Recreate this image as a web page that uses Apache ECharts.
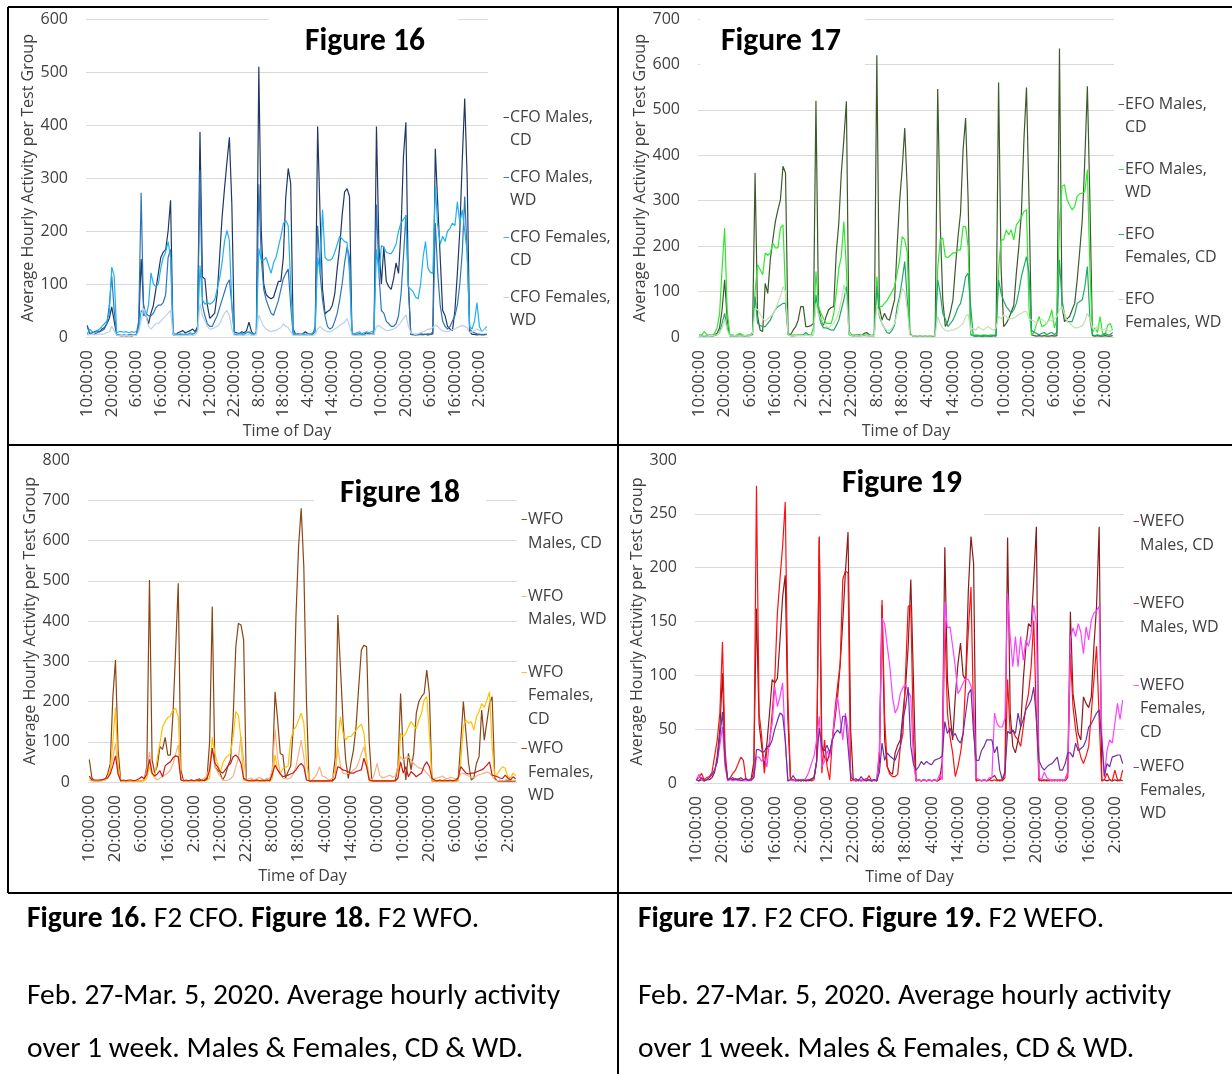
<!DOCTYPE html>
<html><head><meta charset="utf-8">
<script src="https://cdn.jsdelivr.net/npm/echarts@6/dist/echarts.min.js"></script>
<style>html,body{margin:0;padding:0;background:#fff}#c{width:1232px;height:1074px}</style>
</head><body><div id="c"></div>
<script>
// ---------- categories (hourly, starting 10:00) ----------
const hourLabels = [];
for (let i = 0; i < 164; i++) hourLabels.push(((10 + i) % 24) + ':00:00');

// ---------- Figure 16 (CFO) ----------
const fig16Names = ['CFO Males, CD', 'CFO Males, WD', 'CFO Females, CD', 'CFO Females, WD'];
const cfoMalesCD = [22,5,8,10,12,10,15,18,25,35,57,30,3,3,2,3,2,3,2,3,3,20,147,60,40,25,45,60,90,120,150,160,165,200,258,5,3,8,10,12,8,10,12,15,10,20,387,113,110,60,35,40,45,80,150,225,280,330,377,250,10,8,5,10,8,12,28,10,5,8,510,200,100,80,75,72,75,90,105,105,150,264,318,290,15,5,6,5,6,10,6,5,6,10,397,230,90,44,48,51,60,82,130,170,230,274,280,265,6,5,5,6,5,5,8,5,6,5,397,170,100,170,105,95,90,110,140,120,200,340,405,100,5,5,4,5,6,5,5,4,5,6,355,250,150,50,40,20,15,12,50,120,200,334,450,300,10,5,5,4,5,4,5,5];
const cfoMalesWD = [20,8,5,5,8,10,12,15,25,60,115,50,5,4,3,4,3,4,5,3,5,30,272,40,45,40,40,45,55,60,60,65,80,150,165,5,3,4,5,4,5,4,6,5,8,15,315,60,40,25,20,20,30,40,55,70,85,100,108,60,5,4,5,6,5,8,10,6,5,8,288,150,90,70,57,45,41,55,69,90,110,120,128,60,5,4,5,4,5,4,5,4,5,20,210,120,70,40,20,15,18,30,45,70,100,140,170,150,5,4,5,4,5,4,5,6,5,10,250,120,50,45,30,25,20,20,25,40,80,150,230,100,5,4,5,4,5,4,5,6,5,10,215,120,60,30,20,15,20,30,40,60,100,160,265,160,15,10,8,6,5,5,4,5];
const cfoFemalesCD = [5,15,10,8,12,15,20,25,30,45,132,115,8,10,10,9,10,8,10,9,10,15,50,45,40,60,121,100,95,100,130,150,160,180,150,8,6,5,6,5,6,5,8,6,8,10,135,70,62,65,62,65,70,90,110,140,180,201,182,60,5,6,8,5,6,10,8,6,5,8,167,145,145,150,135,120,140,150,170,190,214,220,210,100,8,5,6,5,6,5,6,5,8,10,150,120,240,150,145,145,148,160,175,190,185,180,178,120,8,6,8,10,6,8,10,8,10,12,165,120,172,170,160,158,157,165,175,200,215,222,228,95,90,85,75,72,100,150,180,130,122,120,285,210,175,190,180,200,205,215,210,255,215,240,200,160,20,15,30,65,20,10,15,20];
const cfoFemalesWD = [3,5,5,4,5,6,5,6,8,10,20,12,3,3,2,3,3,2,3,3,3,10,30,55,40,20,15,20,25,25,30,35,40,45,50,5,3,3,2,3,3,3,4,3,4,10,63,40,30,20,15,15,18,20,25,35,45,50,40,15,3,3,4,3,3,4,5,3,3,4,41,30,20,15,12,10,12,12,15,18,25,20,18,10,3,3,3,4,3,3,4,3,3,5,15,20,15,12,10,10,12,15,18,22,25,28,35,20,4,3,3,4,3,3,5,4,5,6,20,22,18,15,12,12,14,15,18,22,28,35,42,20,8,6,5,6,8,10,12,15,15,18,22,20,15,12,10,10,12,14,15,18,20,22,20,18,8,10,12,15,12,10,15,12];

// ---------- Figure 17 (EFO) ----------
const fig17Names = ['EFO Males, CD', 'EFO Males, WD', 'EFO Females, CD', 'EFO Females, WD'];
const efoMalesCD = [5,3,2,3,4,3,5,8,20,60,126,40,3,2,3,2,5,3,2,3,4,5,361,45,15,12,118,96,170,214,254,280,302,376,361,8,5,15,23,37,67,67,23,23,25,30,520,67,40,26,45,60,65,67,185,250,361,435,519,10,5,3,4,5,3,8,10,5,3,5,620,67,37,52,40,37,60,82,200,300,370,460,324,8,3,2,2,3,2,2,3,2,2,3,546,250,82,23,34,55,82,155,220,273,412,482,300,5,3,2,3,2,2,3,2,2,3,2,560,150,23,30,40,55,70,140,200,273,435,549,300,5,3,2,3,2,3,2,2,3,2,3,635,67,34,40,45,60,74,126,190,258,390,552,300,3,2,3,2,2,3,2,2,3];
const efoMalesWD = [3,5,12,5,3,4,8,20,50,150,240,60,5,5,3,5,8,5,3,4,3,8,100,159,148,137,185,180,185,207,196,196,240,247,100,5,3,5,4,3,5,3,4,5,3,20,144,67,52,40,30,30,30,50,96,150,177,254,150,5,3,4,5,3,4,3,5,4,3,5,133,67,67,74,80,90,100,111,140,170,221,214,185,5,3,2,3,2,3,2,3,2,3,3,150,214,218,177,175,180,185,185,192,192,243,243,199,5,3,5,4,3,5,4,3,5,4,5,150,214,214,236,225,236,214,247,254,265,276,280,60,5,10,30,45,23,25,30,40,60,20,40,250,332,335,302,290,280,287,310,315,317,320,368,150,10,20,10,45,8,5,26,30,15];
const efoFemalesCD = [2,3,2,2,3,2,3,5,10,30,52,20,3,2,3,2,3,2,3,2,3,10,89,30,25,23,23,30,37,50,60,67,70,74,74,5,3,2,3,5,3,5,10,5,3,5,93,52,30,20,20,18,15,15,25,37,60,82,111,15,3,2,3,2,3,4,3,2,3,2,111,45,30,20,10,8,15,26,67,90,126,166,82,8,3,2,3,2,3,2,3,2,3,3,126,96,52,40,23,30,37,50,65,74,100,133,140,67,3,2,3,2,3,2,3,2,3,4,126,96,80,67,60,52,60,74,100,133,155,177,140,15,10,8,5,8,10,5,8,10,5,10,170,82,50,34,34,34,50,74,78,82,110,155,40,5,3,5,3,5,8,5,5,10];
const efoFemalesWD = [3,2,3,2,3,3,4,5,10,20,40,15,3,2,3,2,3,2,3,2,3,8,63,60,50,40,35,40,45,50,60,75,90,111,100,5,3,2,3,3,3,3,4,3,3,5,74,50,40,30,25,20,25,30,40,55,80,115,90,10,3,2,3,2,3,2,3,2,3,2,70,50,30,20,15,15,20,30,50,80,107,100,60,5,3,2,3,2,3,2,3,2,3,3,45,30,20,15,12,15,15,18,20,25,30,45,50,15,20,15,23,18,15,20,23,18,15,20,45,40,48,45,40,40,42,45,50,52,56,56,40,37,35,30,37,40,35,30,37,35,40,45,60,67,50,34,30,25,20,20,22,25,35,52,40,20,15,25,20,15,18,15,12,20];

// ---------- Figure 18 (WFO) ----------
const fig18Names = ['WFO Males, CD', 'WFO Males, WD', 'WFO Females, CD', 'WFO Females, WD'];
const wfoMalesCD = [56,10,3,3,3,5,5,20,45,212,303,80,3,2,3,2,3,2,3,2,3,5,40,502,55,22,40,88,81,111,67,67,170,328,494,30,3,2,3,5,3,5,8,3,5,10,100,436,38,30,22,5,17,40,55,162,336,394,390,353,5,3,2,3,5,3,2,3,5,3,30,224,154,71,67,10,26,40,137,411,585,680,535,204,3,2,3,2,3,2,3,2,3,5,60,415,285,150,55,9,46,80,140,237,328,340,336,100,3,2,3,2,3,2,3,2,3,5,40,220,71,5,71,30,71,171,200,212,220,278,220,3,2,3,2,3,2,3,2,3,2,5,100,200,121,46,5,10,46,63,179,104,150,195,212,10,3,2,3,2,3,2,3,2];
const wfoMalesWD = [5,3,2,3,2,3,5,10,30,60,96,20,3,2,3,2,3,2,3,2,3,5,30,75,20,10,5,10,13,18,22,30,46,70,92,10,3,2,3,5,3,5,3,5,10,15,40,84,38,25,15,5,3,5,8,15,38,60,113,55,5,8,10,5,8,12,8,5,10,8,30,133,60,20,10,8,8,10,20,38,70,104,63,5,3,5,10,20,38,15,13,8,5,10,30,88,40,22,20,22,25,30,35,50,70,88,55,10,5,20,46,17,10,12,15,17,12,15,40,63,55,60,63,55,46,40,35,34,30,22,15,5,8,10,12,15,10,8,12,10,8,10,20,22,18,15,12,10,15,18,20,22,25,22,15,5,3,5,3,5,8,5,3,5];
const wfoFemalesCD = [10,5,3,3,5,5,8,10,30,100,185,40,3,2,3,2,3,2,3,2,2,3,10,38,20,13,60,96,137,150,160,164,179,183,162,5,3,2,3,2,3,2,3,2,3,5,10,111,71,46,22,46,59,65,71,113,175,166,104,5,3,2,3,2,3,2,3,2,3,2,10,67,30,20,34,36,40,104,129,137,154,171,146,55,3,2,3,2,3,2,3,2,3,2,10,104,162,121,104,113,113,121,129,137,144,121,55,3,2,3,2,3,2,3,2,3,2,3,10,121,113,121,137,150,140,133,154,171,204,212,121,3,2,3,2,3,2,3,2,3,2,3,50,137,154,146,150,129,162,175,195,185,204,224,88,13,20,30,38,34,13,10,22,15];
const wfoFemalesWD = [15,5,5,5,5,6,8,10,20,40,65,20,3,5,3,5,5,3,5,8,13,8,20,56,22,15,20,28,13,40,46,50,60,65,63,5,3,5,3,5,3,5,3,5,3,8,30,84,46,38,26,22,30,40,46,63,67,60,46,9,5,3,5,3,5,3,5,3,5,3,20,42,30,20,13,15,17,20,23,30,40,46,38,5,3,3,3,3,3,3,3,3,3,3,10,38,35,30,28,25,22,22,26,28,30,59,38,5,3,3,3,3,3,3,3,3,3,3,10,50,22,38,13,26,20,13,18,22,40,50,38,9,5,3,5,3,5,3,5,3,5,10,38,30,22,20,22,22,25,28,30,35,42,50,17,15,13,10,9,17,10,5,13,8];

// ---------- Figure 19 (WEFO) ----------
const fig19Names = ['WEFO Males, CD', 'WEFO Males, WD', 'WEFO Females, CD', 'WEFO Females, WD'];
const wefoMalesCD = [3,2,3,2,3,3,5,10,25,50,102,20,3,4,3,4,3,5,3,4,3,4,20,162,55,34,15,37,65,96,93,97,133,173,193,60,4,3,2,3,2,3,2,3,4,5,20,229,34,24,20,28,40,59,80,110,150,196,233,50,3,2,3,2,3,4,3,2,3,2,20,165,40,15,10,8,28,35,40,65,89,127,189,96,2,3,2,3,2,3,2,3,2,3,20,219,96,65,40,80,110,130,100,96,179,229,204,2,3,2,3,2,3,5,7,3,2,3,10,228,65,34,28,40,52,96,127,148,145,189,238,3,2,3,2,3,2,3,2,3,2,3,10,159,83,65,46,40,80,74,70,80,127,164,238,2,3,2,3,2,3,2,3,2];
const wefoMalesWD = [3,5,9,3,5,6,10,25,40,65,131,30,3,5,9,12,18,24,21,3,3,3,10,276,65,43,9,31,37,65,96,158,190,220,261,80,3,3,2,3,2,3,2,3,2,3,20,227,9,40,15,3,40,68,90,111,189,197,195,2,3,2,3,2,3,2,7,2,3,2,30,170,60,15,8,6,6,8,34,46,102,164,165,40,2,3,2,3,2,3,2,3,2,3,5,151,65,43,28,6,15,28,46,96,142,182,60,2,3,2,3,2,3,2,3,2,3,2,5,96,46,49,43,40,34,52,71,83,108,151,60,2,3,2,3,2,3,2,3,2,3,2,5,120,71,50,34,24,18,25,34,65,96,127,60,2,3,9,3,2,12,3,2,12];
const wefoFemalesCD = [3,8,3,2,3,5,8,12,20,35,52,15,2,3,2,3,2,3,2,2,3,2,5,24,24,20,24,15,40,55,89,71,80,93,40,2,3,2,3,2,3,2,5,10,18,25,40,62,15,20,30,24,40,65,80,60,40,65,50,10,2,3,2,3,2,3,2,3,2,3,30,153,148,127,108,80,65,70,83,89,91,85,80,20,2,3,2,3,2,3,2,3,2,8,3,168,144,145,127,108,83,87,93,97,96,90,80,5,3,2,3,2,5,5,65,55,52,52,60,176,136,108,136,108,136,114,133,127,139,165,148,5,3,10,5,3,2,3,2,3,2,3,10,134,144,136,148,140,120,145,133,151,158,160,164,46,6,30,40,37,55,74,59,77];
const wefoFemalesWD = [3,2,5,2,3,5,8,12,20,43,66,20,3,4,5,3,4,2,3,4,2,3,5,31,31,29,29,34,34,40,50,58,65,63,40,2,3,7,3,2,3,2,3,2,3,5,20,51,34,30,35,28,40,46,49,46,62,62,34,6,3,4,2,6,3,2,3,2,3,2,10,37,21,28,25,23,21,28,34,59,71,89,34,18,12,15,20,17,20,18,17,21,22,23,25,57,46,51,43,46,40,37,46,65,83,87,46,21,21,30,34,40,40,40,28,34,12,3,10,48,46,49,46,65,52,59,68,72,77,89,60,21,15,12,15,17,18,21,24,12,12,18,28,28,24,37,30,32,34,40,52,55,60,65,68,40,6,18,15,24,25,26,26,18];

// ---------- presentation ----------
const F = "'Open Sans', sans-serif";
const CAP = "Carlito, Lato, sans-serif";
const TXT = '#404040';
const GRIDC = '#d9d9d9';

const panels = [
  { names: fig16Names, data: [cfoMalesCD, cfoMalesWD, cfoFemalesCD, cfoFemalesWD],
    colors: ['#1f3864', '#2e75b6', '#1fb1ef', '#bdd0ea'], max: 600, step: 100, topLine: true,
    grid: { left: 86, top: 19, width: 402, height: 318 },
    legend: { left: 498, top: 106, gap: 14, lh: 23,
      lines: [['CFO Males,', 'CD'], ['CFO Males,', 'WD'], ['CFO Females,', 'CD'], ['CFO Females,', 'WD']] } },
  { names: fig17Names, data: [efoMalesCD, efoMalesWD, efoFemalesCD, efoFemalesWD],
    colors: ['#3d5a2a', '#2ee82e', '#1ea86a', '#c5e0b4'], max: 700, step: 100, topLine: true,
    grid: { left: 698, top: 19, width: 416, height: 318 },
    legend: { left: 1113, top: 93, gap: 19, lh: 23,
      lines: [['EFO Males,', 'CD'], ['EFO Males,', 'WD'], ['EFO', 'Females, CD'], ['EFO', 'Females, WD']] } },
  { names: fig18Names, data: [wfoMalesCD, wfoMalesWD, wfoFemalesCD, wfoFemalesWD],
    colors: ['#8b4513', '#f4b183', '#ffc000', '#cc1a1a'], max: 800, step: 100, topLine: false,
    grid: { left: 88, top: 460, width: 429, height: 322 },
    legend: { left: 516, top: 508, gap: 5.8, lh: 23.5,
      lines: [['WFO', 'Males, CD', ''], ['WFO', 'Males, WD', ''], ['WFO', 'Females,', 'CD'], ['WFO', 'Females,', 'WD']] } },
  { names: fig19Names, data: [wefoMalesCD, wefoMalesWD, wefoFemalesCD, wefoFemalesWD],
    colors: ['#8b1a1a', '#ff1010', '#ff40ff', '#7030a0'], max: 300, step: 50, topLine: false,
    grid: { left: 695, top: 460, width: 429, height: 323 },
    legend: { left: 1128, top: 510, gap: 11.2, lh: 23.5,
      lines: [['WEFO', 'Males, CD', ''], ['WEFO', 'Males, WD', ''], ['WEFO', 'Females,', 'CD'], ['WEFO', 'Females,', 'WD']] } }
];

const grids = [], xAxes = [], yAxes = [], series = [], legends = [];
panels.forEach((p, k) => {
  grids.push(Object.assign({ containLabel: false }, p.grid));
  xAxes.push({ type: 'category', gridIndex: k, data: hourLabels, boundaryGap: true,
    axisTick: { show: false }, axisLine: { show: true, lineStyle: { color: GRIDC, width: 1 } },
    axisLabel: { interval: 9, rotate: 90, fontSize: 17, color: TXT, margin: 13, fontFamily: F },
    name: 'Time of Day', nameLocation: 'middle', nameGap: 86,
    nameTextStyle: { fontSize: 16, color: TXT, fontFamily: F } });
  yAxes.push({ type: 'value', gridIndex: k, min: 0, max: p.max, interval: p.step,
    axisLine: { show: false }, axisTick: { show: false },
    axisLabel: { fontSize: 16, color: TXT, margin: 18, fontFamily: F },
    splitLine: { showMaxLine: p.topLine, lineStyle: { color: GRIDC, width: 1 } },
    name: 'Average Hourly Activity per Test Group', nameLocation: 'middle', nameGap: 50,
    nameTextStyle: { fontSize: 16, color: TXT, fontFamily: F } });
  p.names.forEach((n, j) => {
    series.push({ type: 'line', name: n, data: p.data[j], xAxisIndex: k, yAxisIndex: k,
      symbol: 'none', showSymbol: false, z: 2,
      lineStyle: { color: p.colors[j], width: 1.2 }, itemStyle: { color: p.colors[j] },
      emphasis: { disabled: true } });
  });
  const L = p.legend;
  const rich = {
    t: { fontSize: 16, lineHeight: L.lh, color: TXT, fontFamily: F },
    i: { width: 7, lineHeight: L.lh, fontSize: 16, fontFamily: F }
  };
  p.colors.forEach((c, j) => { rich['d' + j] = { color: c, fontSize: 13, lineHeight: L.lh, width: 7, fontFamily: F }; });
  legends.push({
    data: p.names, orient: 'vertical', left: L.left, top: L.top, itemGap: L.gap,
    itemWidth: 0, itemHeight: 0, padding: 0, icon: 'rect', selectedMode: false,
    formatter: (n) => {
      const j = p.names.indexOf(n);
      return L.lines[j].map((s, q) => (q === 0 ? '{d' + j + '|–}' : '{i| }') + '{t|' + (s || ' ') + '}').join('\n');
    },
    textStyle: { fontSize: 16, lineHeight: L.lh, color: TXT, fontFamily: F, rich: rich }
  });
});

function hline(x1, y1, x2, y2) {
  return { type: 'line', z: 20, shape: { x1, y1, x2, y2 }, style: { stroke: '#000', lineWidth: 2 } };
}
function box(x, y, w, h) {
  return { type: 'rect', z: 1, shape: { x, y, width: w, height: h }, style: { fill: '#fff' } };
}
function title(text, x, y) {
  return { type: 'text', z: 30, x, y, style: { text, font: 'bold 31.5px ' + CAP, fill: '#000', align: 'center', verticalAlign: 'middle' } };
}
function cap(text, x, y) {
  return { type: 'text', z: 30, x, y, style: { text, font: '29.5px ' + CAP, fill: '#000', verticalAlign: 'middle',
    rich: { b: { font: 'bold 29.5px ' + CAP, fill: '#000' } } } };
}

const graphics = [
  box(269, 12, 189, 50), box(700, 12, 165, 58), box(314, 455, 172, 51), box(821, 455, 163, 65),
  title('Figure 16', 365, 42), title('Figure 17', 781, 42), title('Figure 18', 400, 494), title('Figure 19', 902, 484),
  hline(8, 7, 1232, 7), hline(8, 7, 8, 893), hline(8, 445, 1232, 445), hline(8, 893, 1232, 893), hline(618, 7, 618, 1074),
  cap('{b|Figure 16.} F2 CFO. {b|Figure 18.} F2 WFO.', 27, 920),
  cap('Feb. 27-Mar. 5, 2020. Average hourly activity', 27, 997),
  cap('over 1 week. Males & Females, CD & WD.', 27, 1050),
  cap('{b|Figure 17}. F2 CFO. {b|Figure 19.} F2 WEFO.', 638, 920),
  cap('Feb. 27-Mar. 5, 2020. Average hourly activity', 638, 997),
  cap('over 1 week. Males & Females, CD & WD.', 638, 1050)
];

const chart = echarts.init(document.getElementById('c'), null, { renderer: 'canvas' });
chart.setOption({
  backgroundColor: '#fff',
  animation: false,
  textStyle: { fontFamily: F },
  grid: grids, xAxis: xAxes, yAxis: yAxes, series: series, legend: legends,
  graphic: graphics
});
</script></body></html>
